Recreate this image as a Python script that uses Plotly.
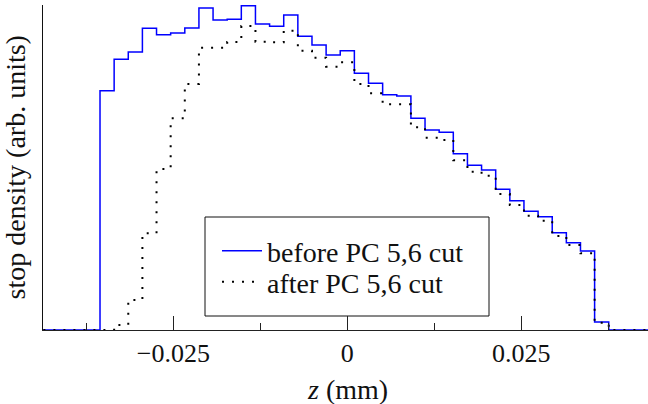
import numpy as np
import plotly.graph_objects as go

# Histogram binning along z (mm): 36 equal-width bins
z_first_edge = -0.03553
z_last_edge = 0.03756
n_bins = 36

# Stop density per bin (arbitrary units)
before_cut = [239.3, 270.7, 278.0, 301.7, 295.3, 297.0, 302.0, 322.0, 310.0, 310.7,
              324.3, 306.0, 303.7, 315.0, 293.7, 285.0, 275.0, 279.3, 256.7, 246.7,
              235.3, 234.0, 211.7, 200.0, 197.7, 176.3, 164.7, 160.0, 140.7, 129.3,
              118.7, 113.3, 97.3, 87.3, 79.0, 8.0]
after_cut = [0.0, 5.0, 30.0, 96.7, 161.0, 211.7, 246.0, 282.3, 282.3, 288.0,
             304.0, 288.3, 287.7, 299.3, 279.3, 272.3, 263.3, 267.7, 246.0, 236.7,
             225.7, 225.7, 202.7, 192.3, 190.0, 169.7, 158.3, 154.3, 136.0, 125.0,
             114.3, 109.3, 94.0, 85.0, 76.7, 7.3]

x_range = [-0.04372, 0.0432]
y_range = [0, 325]
tick_vals = [-0.025, 0, 0.025]
tick_text = ["\u22120.025", "0", "0.025"]
minor_tick_vals = [-0.0375, -0.0125, 0.0125, 0.0375]

edges = np.linspace(z_first_edge, z_last_edge, n_bins + 1)

# plot-area geometry in pixels (used to place the legend in paper coords)
L, T, W, H = 43, 5, 605, 325


def px_x(p):
    return (p - L) / W


def px_y(p):
    return (T + H - p) / H


def step_xy(values):
    """Step outline of a histogram, padded with empty bins out to the axis ends."""
    xs = [x_range[0] - 0.01] + list(edges) + [x_range[1] + 0.01]
    ys = [0.0] + list(values) + [0.0, 0.0]
    return xs, ys


FONT = "Liberation Serif"
INK = "#111"

fig = go.Figure()

xb, yb = step_xy(before_cut)
fig.add_trace(go.Scatter(
    x=xb, y=yb, mode="lines", line_shape="hv",
    line=dict(color="#0000ff", width=1.5),
    name="before PC 5,6 cut", legend="legend",
))

xa, ya = step_xy(after_cut)
fig.add_trace(go.Scatter(
    x=xa, y=ya, mode="lines", line_shape="hv",
    line=dict(color="black", width=2, dash="2px,8px"),
    name="after PC 5,6 cut", legend="legend2",
))

legend_style = dict(
    xanchor="left", yanchor="top",
    bgcolor="rgba(0,0,0,0)", borderwidth=0,
    itemwidth=40,
    font=dict(family=FONT, size=28, color=INK),
)

fig.update_layout(
    width=648, height=404,
    margin=dict(l=L, r=648 - L - W, t=T, b=404 - T - H),
    paper_bgcolor="white", plot_bgcolor="white",
    font=dict(family=FONT, size=26, color=INK),
    showlegend=True,
    legend=dict(x=px_x(217), y=px_y(226), **legend_style),
    legend2=dict(x=px_x(217), y=px_y(257), **legend_style),
    shapes=[
        # legend frame
        dict(type="rect", xref="paper", yref="paper",
             x0=px_x(205), x1=px_x(489), y0=px_y(316), y1=px_y(217),
             line=dict(color=INK, width=1), fillcolor="white", layer="below"),
    ],
    xaxis=dict(
        range=x_range, showgrid=False, zeroline=False,
        showline=True, linecolor="#222", linewidth=1,
        tickmode="array", tickvals=tick_vals, ticktext=tick_text,
        ticks="inside", ticklen=14, tickwidth=1, tickcolor="#222",
        minor=dict(ticks="inside", ticklen=7, tickwidth=1, tickcolor="#222",
                   tickmode="array", tickvals=minor_tick_vals),
        tickfont=dict(family=FONT, size=26, color=INK),
    ),
    yaxis=dict(
        range=y_range, showgrid=False, zeroline=False,
        showline=True, linecolor=INK, linewidth=1,
        showticklabels=False, ticks="",
    ),
    annotations=[
        dict(text="stop density (arb. units)", textangle=-90,
             xref="paper", yref="paper", x=0, y=0.5, xshift=-28,
             xanchor="center", yanchor="middle", showarrow=False,
             font=dict(family=FONT, size=28, color=INK)),
        dict(text="<i>z</i> (mm)",
             xref="x", yref="paper", x=0, y=0, yshift=-42,
             xanchor="center", yanchor="top", showarrow=False,
             font=dict(family=FONT, size=28, color=INK)),
    ],
)

fig.write_html("out.html")
